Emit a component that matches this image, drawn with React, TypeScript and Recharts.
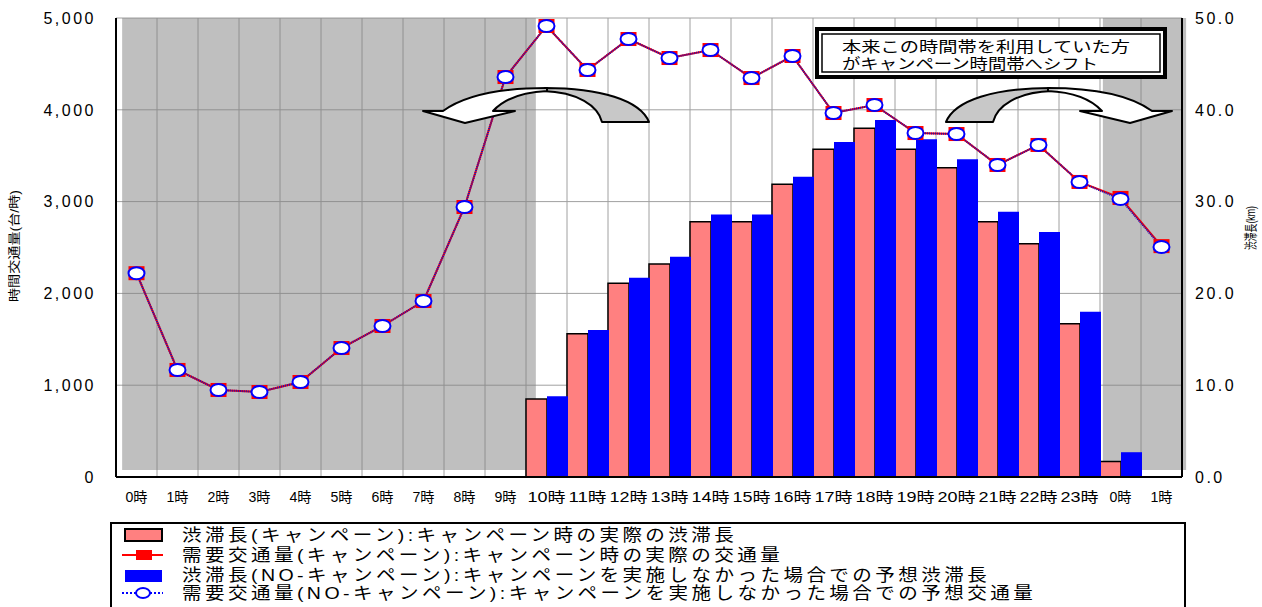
import React from 'react';
import { ComposedChart, Bar, Line, XAxis, YAxis, CartesianGrid, ReferenceArea } from 'recharts';

const hourLabels = ['0時','1時','2時','3時','4時','5時','6時','7時','8時','9時','10時','11時','12時','13時','14時','15時','16時','17時','18時','19時','20時','21時','22時','23時','0時','1時'];
const demandCampaign = [2220,1166,948,926,1035,1405,1645,1917,2941,4357,4913,4434,4771,4564,4651,4346,4586,3965,4052,3747,3736,3399,3617,3214,3040,2515];
const demandNoCampaign = [2220,1166,948,926,1035,1405,1645,1917,2941,4357,4913,4434,4771,4564,4651,4346,4586,3965,4052,3747,3736,3399,3617,3214,3028,2505];
const jamCampaign = [null,null,null,null,null,null,null,null,null,null,8.5,15.6,21.1,23.2,27.8,27.8,31.9,35.7,38.0,35.7,33.7,27.8,25.4,16.7,1.7,null];
const jamNoCampaign = [null,null,null,null,null,null,null,null,null,null,8.8,16.0,21.7,24.0,28.6,28.6,32.7,36.5,38.9,36.8,34.6,28.9,26.7,18.0,2.7,null];
const leftTicks = [0,1000,2000,3000,4000,5000];
const rightTicks = [0,10,20,30,40,50];
const legendTexts = [
  '渋滞長(キャンペーン):キャンペーン時の実際の渋滞長',
  '需要交通量(キャンペーン):キャンペーン時の実際の交通量',
  '渋滞長(NO-キャンペーン):キャンペーンを実施しなかった場合での予想渋滞長',
  '需要交通量(NO-キャンペーン):キャンペーンを実施しなかった場合での予想交通量',
];
const noteLines = ['本来この時間帯を利用していた方', 'がキャンペーン時間帯へシフト'];
const leftTitle = '時間交通量(台/時)';
const rightTitle = '渋滞長(km)';

const data = hourLabels.map((label, i) => ({
  idx: i,
  label,
  demandCampaign: demandCampaign[i],
  demandNoCampaign: demandNoCampaign[i],
  jamCampaign: jamCampaign[i],
  jamNoCampaign: jamNoCampaign[i],
}));
const boundaries = [...hourLabels.map((_, i) => i - 0.5), hourLabels.length - 0.5];

const FONT = "'Liberation Sans', Arial, 'Noto Sans CJK JP', sans-serif";

const XTick = (props: any) => {
  const { x, y, payload } = props;
  const label = hourLabels[payload.value];
  return (
    <text x={x} y={y} dy="0.71em" textAnchor="middle" fontSize={14} fill="#000" fontFamily={FONT}
      textLength={label.length === 2 ? 22 : 38} lengthAdjust="spacingAndGlyphs">{label}</text>
  );
};
const LeftTick = (props: any) => {
  const { x, y, payload } = props;
  return (
    <text x={x} y={y} dy="0.36em" textAnchor="end" fontSize={16} fill="#000" fontFamily={FONT} letterSpacing={2.5}>
      {payload.value.toLocaleString('en-US')}
    </text>
  );
};
const RightTick = (props: any) => {
  const { x, y, payload } = props;
  return (
    <text x={x} y={y} dy="0.36em" textAnchor="start" fontSize={16} fill="#000" fontFamily={FONT} letterSpacing={2.5}>
      {Number(payload.value).toFixed(1)}
    </text>
  );
};

const squareDot = (p: any) => (
  <rect key={`sq-${p.index}`} x={p.cx - 8} y={p.cy - 7} width={16} height={14} fill="#FF0000" />
);
const circleDot = (p: any) => (
  <ellipse key={`ci-${p.index}`} cx={p.cx} cy={p.cy} rx={8} ry={6} fill="#FFFFFF" stroke="#0000FF" strokeWidth={2} />
);

const LeftArrow = () => (
  <g stroke="#000" strokeWidth={2} strokeLinejoin="round">
    <path d="M545,88 C600,88 640,100 649,122 L602,122 C598,106 578,92 543,91 Z" fill="#C8C8C8" />
    <path d="M547,88 C500,88 465,95 443,111 L423,111 L465,123 L515,111 L493,111 C505,98 525,92 547,91 Z" fill="#FFFFFF" />
  </g>
);

export default function App() {
  return (
    <div style={{ position: 'absolute', left: 0, top: 0, width: 1262, height: 607, fontFamily: FONT, background: '#fff' }}>
      <ComposedChart width={1262} height={607} data={data} margin={{ top: 18, right: 0, bottom: 100, left: 0 }}
        barCategoryGap={0} barGap={0}>
        <XAxis xAxisId="grid" type="number" dataKey="idx" domain={[-0.5, hourLabels.length - 0.5]} ticks={boundaries}
          allowDataOverflow hide />
        <XAxis dataKey="idx" type="category" interval={0} height={30} tick={<XTick />} tickSize={0} tickMargin={15}
          axisLine={{ stroke: '#000', strokeWidth: 2 }} tickLine={false} />
        <YAxis yAxisId="left" domain={[0, 5000]} ticks={leftTicks} width={116} tick={<LeftTick />} tickSize={0} tickMargin={20}
          axisLine={{ stroke: '#000', strokeWidth: 2 }} tickLine={false} allowDataOverflow />
        <YAxis yAxisId="right" orientation="right" domain={[0, 50]} ticks={rightTicks} width={80} tick={<RightTick />} tickSize={0} tickMargin={13}
          axisLine={{ stroke: '#000', strokeWidth: 2 }} tickLine={false} allowDataOverflow />
        <ReferenceArea xAxisId="grid" yAxisId="left" x1={-0.35} x2={9.74} y1={75} y2={5000} fill="#808080" fillOpacity={0.5} stroke="none" ifOverflow="visible" />
        <ReferenceArea xAxisId="grid" yAxisId="left" x1={23.57} x2={25.6} y1={75} y2={5000} fill="#808080" fillOpacity={0.5} stroke="none" ifOverflow="visible" />
        <CartesianGrid xAxisId="grid" yAxisId="left" stroke="#A0A0A0" strokeWidth={1} />
        <Bar yAxisId="right" dataKey="jamCampaign" fill="#FF8080" stroke="#000" strokeWidth={1.5} isAnimationActive={false} />
        <Bar yAxisId="right" dataKey="jamNoCampaign" fill="#0000FF" isAnimationActive={false} />
        <Line yAxisId="left" dataKey="demandCampaign" stroke="#FF0000" strokeWidth={2} dot={squareDot} activeDot={false} isAnimationActive={false} />
        <Line yAxisId="left" dataKey="demandNoCampaign" stroke="#1010C0" strokeWidth={2} strokeDasharray="1 1" dot={circleDot} activeDot={false} isAnimationActive={false} />
      </ComposedChart>
      <svg width={1262} height={607} style={{ position: 'absolute', left: 0, top: 0, pointerEvents: 'none' }} fontFamily={FONT}>
        <text transform="translate(15,246) rotate(-90)" textAnchor="middle" dominantBaseline="central" fontSize={12} fill="#000"
          textLength={112} lengthAdjust="spacingAndGlyphs">{leftTitle}</text>
        <text transform="translate(1250,228) rotate(-90)" textAnchor="middle" dominantBaseline="central" fontSize={13} fill="#000"
          textLength={44} lengthAdjust="spacingAndGlyphs">{rightTitle}</text>
        <LeftArrow />
        <g transform="translate(1595,0) scale(-1,1)"><LeftArrow /></g>
        <rect x={817} y={29} width={348} height={48} fill="#FFFFFF" stroke="#000" strokeWidth={4} />
        <rect x={822} y={34} width={338} height={38} fill="none" stroke="#000" strokeWidth={1.5} />
        <text x={842} y={46} dominantBaseline="central" fontSize={15} fill="#000" textLength={288} lengthAdjust="spacingAndGlyphs">{noteLines[0]}</text>
        <text x={842} y={63} dominantBaseline="central" fontSize={15} fill="#000" textLength={256} lengthAdjust="spacingAndGlyphs">{noteLines[1]}</text>
        <rect x={111} y={523} width={1074} height={110} fill="#FFFFFF" stroke="#000" strokeWidth={2} />
        <rect x={125} y={529} width={37} height={12} fill="#FF8080" stroke="#000" strokeWidth={2} />
        <line x1={122} x2={163} y1={555} y2={555} stroke="#FF0000" strokeWidth={2} />
        <rect x={136} y={550} width={16} height={10} fill="#FF0000" />
        <rect x={125} y={570} width={37} height={12} fill="#0000FF" />
        <line x1={122} x2={163} y1={593} y2={593} stroke="#0000FF" strokeWidth={2} strokeDasharray="2 2" />
        <ellipse cx={143} cy={593} rx={7} ry={5} fill="#FFFFFF" stroke="#0000FF" strokeWidth={2} />
        {legendTexts.map((t, i) => (
          <text key={i} transform={`translate(182,${[535, 555, 575, 593][i]}) scale(1.15,1)`} dominantBaseline="central"
            fontSize={17} fill="#000" letterSpacing={3}>{t}</text>
        ))}
      </svg>
    </div>
  );
}
